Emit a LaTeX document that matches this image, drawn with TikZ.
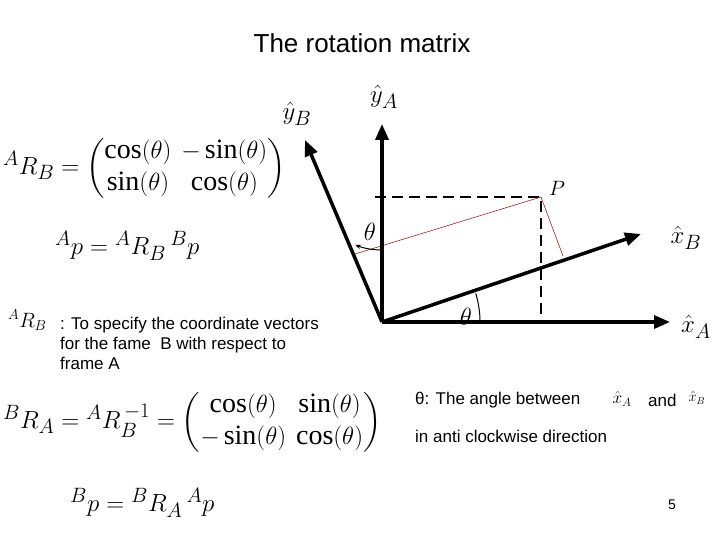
\documentclass[tikz,border=0pt]{standalone}
\usepackage{amsmath}
\usepackage{fontspec}
\setmainfont{Liberation Serif}
\newfontfamily\arial{Liberation Sans}
\usetikzlibrary{arrows.meta}
\begin{document}
\begin{tikzpicture}[x=1pt,y=-1pt,
  ax/.style={line width=3.5pt,-{Triangle[length=16pt,width=13pt]}},
  dsh/.style={line width=1.6pt,dash pattern=on 11pt off 6pt},
  red/.style={draw=red!60!black,line width=0.5pt},
  txt/.style={font=\arial\fontsize{17}{20}\selectfont,anchor=west,inner sep=0pt},
  mth/.style={font=\fontsize{28}{32}\selectfont,inner sep=0pt}]
\useasboundingbox (0,0) rectangle (720,540);
\node[font=\arial\fontsize{26}{30}\selectfont] (title) at (362,43) {The rotation matrix};
% axes
\coordinate (O) at (382,322);
\coordinate (XA) at (670,322);
\coordinate (YA) at (382,124);
\coordinate (XB) at (641,234);
\coordinate (YB) at (305,140);
\coordinate (P) at (541,197);
\coordinate (PA) at (375,197);
\coordinate (PX) at (541,322);
\coordinate (PYB) at (355,254);
\coordinate (PXB) at (563,256);
\draw[dsh] (PA) -- (P) -- (PX);
\draw[red] (PYB) -- (P) -- (PXB);
\draw[ax] (O) -- (XA);
\draw[ax] (O) -- (YA);
\draw[ax] (O) -- (XB);
\draw[ax] (O) -- (YB);
\draw[line width=1pt,-{Stealth[length=6pt]}] (382,250) arc[start angle=90,end angle=112,radius=72];
\draw[line width=1pt] (480,322) arc[start angle=0,end angle=-17,radius=98];
\node[mth,font=\fontsize{24}{28}\selectfont] (th1) at (370,232) {$\theta$};
\node[mth,font=\fontsize{24}{28}\selectfont] (th2) at (466,317) {$\theta$};
\node[mth] (lyb) at (297,114) {$\hat y_{B}$};
\node[mth] (lya) at (384,97) {$\hat y_{A}$};
\node[mth] (lxb) at (686,238) {$\hat x_{B}$};
\node[mth] (lxa) at (696,327) {$\hat x_{A}$};
\node[mth,font=\fontsize{22}{26}\selectfont] (lp) at (557,188) {$P$};
% formulas
\node[mth,anchor=west] (f1) at (3,168) {${}^{A}R_{B}=\begin{pmatrix}\cos(\theta) & -\sin(\theta)\\ \sin(\theta) & \cos(\theta)\end{pmatrix}$};
\node[mth,anchor=west] (f2) at (55,246) {${}^{A}p={}^{A}R_{B}\,{}^{B}p$};
\node[mth,anchor=west,font=\fontsize{22}{26}\selectfont] (f3) at (8,320) {${}^{A}R_{B}$};
\node[txt,align=left,anchor=north west] (t1) at (60,317) {: To specify the coordinate vectors\\for the fame~ B with respect to\\frame A};
\node[mth,anchor=west] (f4) at (3,422) {${}^{B}R_{A}={}^{A}R_{B}^{\,-1}=\begin{pmatrix}\cos(\theta) & \sin(\theta)\\ -\sin(\theta) & \cos(\theta)\end{pmatrix}$};
\node[mth,anchor=west] (f5) at (70,503) {${}^{B}p={}^{B}R_{A}\,{}^{A}p$};
\node[txt] (t2) at (415,400) {θ: The angle between};
\node[mth,font=\fontsize{18}{20}\selectfont] (s1) at (622,399) {$\hat x_{A}$};
\node[txt] (and) at (648,400) {and};
\node[mth,font=\fontsize{14}{16}\selectfont] (s2) at (697,398) {$\hat x_{B}$};
\node[txt] (t3) at (415,436) {in anti clockwise direction};
\node[txt,font=\arial\fontsize{14}{16}\selectfont] (pg) at (668,505) {5};
\end{tikzpicture}
\end{document}
